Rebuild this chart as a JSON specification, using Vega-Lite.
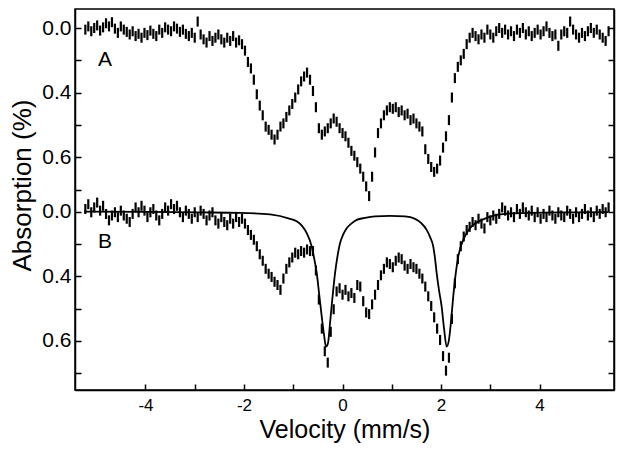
{
 "$schema": "https://vega.github.io/schema/vega-lite/v6.json",
 "width": 539,
 "height": 381,
 "autosize": "none",
 "padding": {"left": 75, "top": 9, "right": 10, "bottom": 68},
 "background": "white",
 "config": {
  "font": "Liberation Sans",
  "view": {"stroke": "black", "strokeWidth": 1.5},
  "axis": {"grid": false, "domainColor": "black", "domainWidth": 1.5, "tickColor": "black", "tickWidth": 1.5, "tickSize": -6, "labelColor": "black", "labelFont": "Liberation Sans", "titleColor": "black", "titleFont": "Liberation Sans", "titleFontWeight": "normal", "titleFontSize": 26}
 },
 "datasets": {
  "A": [
   {"v":-5.22,"u":0.05},{"v":-5.16,"u":-0.05},{"v":-5.10,"u":0.10},{"v":-5.04,"u":0.00},{"v":-4.98,"u":-0.08},{"v":-4.92,"u":0.08},{"v":-4.86,"u":-0.02},{"v":-4.80,"u":-0.15},{"v":-4.74,"u":-0.05},{"v":-4.68,"u":-0.18},{"v":-4.62,"u":0.02},{"v":-4.56,"u":0.15},{"v":-4.50,"u":-0.05},{"v":-4.44,"u":0.05},{"v":-4.38,"u":0.12},{"v":-4.32,"u":0.20},{"v":-4.26,"u":0.10},{"v":-4.20,"u":0.25},{"v":-4.14,"u":0.18},{"v":-4.08,"u":0.30},{"v":-4.02,"u":0.15},{"v":-3.96,"u":0.22},{"v":-3.90,"u":0.08},{"v":-3.84,"u":0.18},{"v":-3.78,"u":0.25},{"v":-3.72,"u":0.05},{"v":-3.66,"u":0.15},{"v":-3.60,"u":-0.02},{"v":-3.54,"u":0.05},{"v":-3.48,"u":0.10},{"v":-3.42,"u":-0.05},{"v":-3.36,"u":0.02},{"v":-3.30,"u":0.12},{"v":-3.24,"u":0.05},{"v":-3.18,"u":0.18},{"v":-3.12,"u":0.25},{"v":-3.06,"u":0.15},{"v":-3.00,"u":0.30},{"v":-2.94,"u":-0.20},{"v":-2.88,"u":0.20},{"v":-2.82,"u":0.35},{"v":-2.76,"u":0.45},{"v":-2.70,"u":0.25},{"v":-2.64,"u":0.40},{"v":-2.58,"u":0.30},{"v":-2.52,"u":0.20},{"v":-2.46,"u":0.35},{"v":-2.40,"u":0.45},{"v":-2.34,"u":0.30},{"v":-2.28,"u":0.40},{"v":-2.22,"u":0.25},{"v":-2.16,"u":0.45},{"v":-2.10,"u":0.38},{"v":-2.04,"u":0.50},{"v":-1.98,"u":0.70},{"v":-1.92,"u":1.05},{"v":-1.86,"u":1.25},{"v":-1.80,"u":1.60},{"v":-1.74,"u":2.05},{"v":-1.68,"u":2.40},{"v":-1.62,"u":2.70},{"v":-1.56,"u":3.05},{"v":-1.50,"u":3.15},{"v":-1.44,"u":3.30},{"v":-1.38,"u":3.45},{"v":-1.32,"u":3.30},{"v":-1.26,"u":3.05},{"v":-1.20,"u":2.95},{"v":-1.14,"u":2.75},{"v":-1.08,"u":2.55},{"v":-1.02,"u":2.35},{"v":-0.96,"u":2.15},{"v":-0.90,"u":1.90},{"v":-0.84,"u":1.65},{"v":-0.78,"u":1.50},{"v":-0.72,"u":1.38},{"v":-0.66,"u":1.60},{"v":-0.60,"u":1.95},{"v":-0.54,"u":2.45},{"v":-0.48,"u":3.10},{"v":-0.42,"u":3.30},{"v":-0.36,"u":3.20},{"v":-0.30,"u":3.10},{"v":-0.24,"u":2.95},{"v":-0.18,"u":2.80},{"v":-0.12,"u":2.90},{"v":-0.06,"u":3.10},{"v":0.00,"u":3.25},{"v":0.06,"u":3.35},{"v":0.12,"u":3.55},{"v":0.18,"u":3.80},{"v":0.24,"u":3.95},{"v":0.30,"u":4.15},{"v":0.36,"u":4.35},{"v":0.42,"u":4.60},{"v":0.48,"u":4.90},{"v":0.54,"u":5.20},{"v":0.60,"u":4.60},{"v":0.66,"u":3.85},{"v":0.72,"u":3.25},{"v":0.78,"u":2.95},{"v":0.84,"u":2.70},{"v":0.90,"u":2.55},{"v":0.96,"u":2.45},{"v":1.02,"u":2.50},{"v":1.08,"u":2.45},{"v":1.14,"u":2.60},{"v":1.20,"u":2.55},{"v":1.26,"u":2.70},{"v":1.32,"u":2.65},{"v":1.38,"u":2.85},{"v":1.44,"u":2.80},{"v":1.50,"u":2.95},{"v":1.56,"u":3.05},{"v":1.62,"u":3.20},{"v":1.68,"u":3.75},{"v":1.74,"u":4.05},{"v":1.80,"u":4.30},{"v":1.86,"u":4.45},{"v":1.92,"u":4.35},{"v":1.98,"u":4.10},{"v":2.04,"u":3.70},{"v":2.10,"u":3.35},{"v":2.16,"u":2.85},{"v":2.22,"u":2.15},{"v":2.28,"u":1.55},{"v":2.34,"u":1.20},{"v":2.40,"u":1.00},{"v":2.46,"u":0.80},{"v":2.52,"u":0.50},{"v":2.58,"u":0.30},{"v":2.64,"u":0.15},{"v":2.70,"u":0.25},{"v":2.76,"u":0.35},{"v":2.82,"u":0.20},{"v":2.88,"u":0.30},{"v":2.94,"u":0.05},{"v":3.00,"u":0.20},{"v":3.06,"u":0.30},{"v":3.12,"u":0.10},{"v":3.18,"u":0.00},{"v":3.24,"u":0.15},{"v":3.30,"u":0.05},{"v":3.36,"u":0.20},{"v":3.42,"u":0.10},{"v":3.48,"u":0.25},{"v":3.54,"u":0.05},{"v":3.60,"u":0.15},{"v":3.66,"u":0.00},{"v":3.72,"u":0.20},{"v":3.78,"u":0.10},{"v":3.84,"u":0.25},{"v":3.90,"u":0.15},{"v":3.96,"u":0.05},{"v":4.02,"u":0.20},{"v":4.08,"u":0.10},{"v":4.14,"u":-0.05},{"v":4.20,"u":0.15},{"v":4.26,"u":0.25},{"v":4.32,"u":0.20},{"v":4.38,"u":0.55},{"v":4.44,"u":0.20},{"v":4.50,"u":0.10},{"v":4.56,"u":0.15},{"v":4.62,"u":-0.20},{"v":4.68,"u":0.05},{"v":4.74,"u":0.20},{"v":4.80,"u":0.30},{"v":4.86,"u":0.15},{"v":4.92,"u":0.25},{"v":4.98,"u":0.10},{"v":5.04,"u":0.00},{"v":5.10,"u":0.15},{"v":5.16,"u":0.05},{"v":5.22,"u":0.20},{"v":5.28,"u":0.30},{"v":5.34,"u":0.40},{"v":5.40,"u":0.10}
  ],
  "B": [
   {"v":-5.22,"u":5.60},{"v":-5.16,"u":5.45},{"v":-5.10,"u":5.70},{"v":-5.04,"u":5.55},{"v":-4.98,"u":5.40},{"v":-4.92,"u":5.65},{"v":-4.86,"u":5.50},{"v":-4.80,"u":5.75},{"v":-4.74,"u":5.95},{"v":-4.68,"u":5.80},{"v":-4.62,"u":5.70},{"v":-4.56,"u":5.85},{"v":-4.50,"u":5.65},{"v":-4.44,"u":5.80},{"v":-4.38,"u":5.90},{"v":-4.32,"u":6.00},{"v":-4.26,"u":5.75},{"v":-4.20,"u":5.55},{"v":-4.14,"u":5.70},{"v":-4.08,"u":5.50},{"v":-4.02,"u":5.65},{"v":-3.96,"u":5.85},{"v":-3.90,"u":5.70},{"v":-3.84,"u":5.60},{"v":-3.78,"u":5.80},{"v":-3.72,"u":5.95},{"v":-3.66,"u":5.75},{"v":-3.60,"u":5.55},{"v":-3.54,"u":5.65},{"v":-3.48,"u":5.45},{"v":-3.42,"u":5.60},{"v":-3.36,"u":5.50},{"v":-3.30,"u":5.70},{"v":-3.24,"u":5.85},{"v":-3.18,"u":5.65},{"v":-3.12,"u":5.75},{"v":-3.06,"u":5.90},{"v":-3.00,"u":5.70},{"v":-2.94,"u":5.85},{"v":-2.88,"u":5.65},{"v":-2.82,"u":5.75},{"v":-2.76,"u":5.95},{"v":-2.70,"u":5.80},{"v":-2.64,"u":5.70},{"v":-2.58,"u":5.95},{"v":-2.52,"u":6.05},{"v":-2.46,"u":5.85},{"v":-2.40,"u":6.00},{"v":-2.34,"u":6.10},{"v":-2.28,"u":5.90},{"v":-2.22,"u":6.05},{"v":-2.16,"u":5.85},{"v":-2.10,"u":6.00},{"v":-2.04,"u":5.90},{"v":-1.98,"u":6.05},{"v":-1.92,"u":6.25},{"v":-1.86,"u":6.40},{"v":-1.80,"u":6.55},{"v":-1.74,"u":6.75},{"v":-1.68,"u":7.00},{"v":-1.62,"u":7.20},{"v":-1.56,"u":7.45},{"v":-1.50,"u":7.60},{"v":-1.44,"u":7.70},{"v":-1.38,"u":7.85},{"v":-1.32,"u":7.95},{"v":-1.26,"u":8.10},{"v":-1.20,"u":7.75},{"v":-1.14,"u":7.45},{"v":-1.08,"u":7.25},{"v":-1.02,"u":7.10},{"v":-0.96,"u":6.95},{"v":-0.90,"u":7.00},{"v":-0.84,"u":6.90},{"v":-0.78,"u":6.95},{"v":-0.72,"u":6.85},{"v":-0.66,"u":6.90},{"v":-0.60,"u":6.90},{"v":-0.54,"u":7.50},{"v":-0.48,"u":8.40},{"v":-0.42,"u":9.30},{"v":-0.36,"u":10.00},{"v":-0.30,"u":10.35},{"v":-0.24,"u":9.40},{"v":-0.18,"u":8.70},{"v":-0.12,"u":8.15},{"v":-0.06,"u":8.05},{"v":0.00,"u":8.25},{"v":0.06,"u":8.10},{"v":0.12,"u":8.30},{"v":0.18,"u":8.20},{"v":0.24,"u":8.35},{"v":0.30,"u":7.95},{"v":0.36,"u":8.00},{"v":0.42,"u":8.45},{"v":0.48,"u":8.80},{"v":0.54,"u":8.85},{"v":0.60,"u":8.55},{"v":0.66,"u":8.25},{"v":0.72,"u":7.95},{"v":0.78,"u":7.65},{"v":0.84,"u":7.45},{"v":0.90,"u":7.25},{"v":0.96,"u":7.30},{"v":1.02,"u":7.40},{"v":1.08,"u":7.20},{"v":1.14,"u":7.10},{"v":1.20,"u":7.15},{"v":1.26,"u":7.35},{"v":1.32,"u":7.45},{"v":1.38,"u":7.30},{"v":1.44,"u":7.40},{"v":1.50,"u":7.45},{"v":1.56,"u":7.60},{"v":1.62,"u":7.75},{"v":1.68,"u":8.00},{"v":1.74,"u":8.30},{"v":1.80,"u":8.60},{"v":1.86,"u":8.95},{"v":1.92,"u":9.30},{"v":1.98,"u":9.65},{"v":2.04,"u":10.15},{"v":2.10,"u":10.60},{"v":2.16,"u":10.20},{"v":2.22,"u":9.00},{"v":2.28,"u":7.90},{"v":2.34,"u":7.15},{"v":2.40,"u":6.75},{"v":2.46,"u":6.45},{"v":2.52,"u":6.25},{"v":2.58,"u":6.15},{"v":2.64,"u":6.00},{"v":2.70,"u":6.10},{"v":2.76,"u":5.90},{"v":2.82,"u":6.05},{"v":2.88,"u":6.20},{"v":2.94,"u":5.85},{"v":3.00,"u":5.95},{"v":3.06,"u":5.80},{"v":3.12,"u":5.90},{"v":3.18,"u":5.75},{"v":3.24,"u":5.55},{"v":3.30,"u":5.65},{"v":3.36,"u":5.80},{"v":3.42,"u":5.70},{"v":3.48,"u":5.85},{"v":3.54,"u":5.60},{"v":3.60,"u":5.75},{"v":3.66,"u":5.55},{"v":3.72,"u":5.70},{"v":3.78,"u":5.80},{"v":3.84,"u":5.65},{"v":3.90,"u":5.85},{"v":3.96,"u":5.70},{"v":4.02,"u":5.90},{"v":4.08,"u":5.75},{"v":4.14,"u":5.85},{"v":4.20,"u":5.65},{"v":4.26,"u":5.80},{"v":4.32,"u":5.90},{"v":4.38,"u":5.70},{"v":4.44,"u":5.80},{"v":4.50,"u":5.85},{"v":4.56,"u":5.65},{"v":4.62,"u":5.75},{"v":4.68,"u":5.90},{"v":4.74,"u":5.70},{"v":4.80,"u":5.85},{"v":4.86,"u":5.75},{"v":4.92,"u":5.60},{"v":4.98,"u":5.80},{"v":5.04,"u":5.70},{"v":5.10,"u":5.85},{"v":5.16,"u":5.65},{"v":5.22,"u":5.75},{"v":5.28,"u":5.60},{"v":5.34,"u":5.70},{"v":5.40,"u":5.55}
  ],
  "fit": [
   {"v":-5.243,"u":5.678},{"v":-3.905,"u":5.687},{"v":-2.890,"u":5.703},{"v":-2.079,"u":5.718},{"v":-1.471,"u":5.765},{"v":-1.065,"u":5.904},{"v":-0.923,"u":5.988},{"v":-0.822,"u":6.121},{"v":-0.726,"u":6.347},{"v":-0.625,"u":6.762},{"v":-0.578,"u":7.111},{"v":-0.523,"u":7.585},{"v":-0.477,"u":8.195},{"v":-0.422,"u":8.929},{"v":-0.375,"u":9.495},{"v":-0.335,"u":9.858},{"v":-0.294,"u":9.743},{"v":-0.254,"u":9.133},{"v":-0.203,"u":8.319},{"v":-0.152,"u":7.585},{"v":-0.101,"u":7.050},{"v":-0.051,"u":6.656},{"v":0.010,"u":6.399},{"v":0.085,"u":6.192},{"v":0.172,"u":6.059},{"v":0.288,"u":5.935},{"v":0.456,"u":5.873},{"v":0.659,"u":5.827},{"v":0.963,"u":5.811},{"v":1.268,"u":5.827},{"v":1.471,"u":5.904},{"v":1.592,"u":6.028},{"v":1.708,"u":6.245},{"v":1.775,"u":6.461},{"v":1.842,"u":6.762},{"v":1.876,"u":7.111},{"v":1.911,"u":7.585},{"v":1.957,"u":8.102},{"v":2.012,"u":8.619},{"v":2.059,"u":9.279},{"v":2.114,"u":9.858},{"v":2.160,"u":9.650},{"v":2.201,"u":9.093},{"v":2.247,"u":8.310},{"v":2.302,"u":7.545},{"v":2.349,"u":7.071},{"v":2.450,"u":6.554},{"v":2.546,"u":6.276},{"v":2.653,"u":6.090},{"v":2.789,"u":5.966},{"v":2.992,"u":5.833},{"v":3.296,"u":5.749},{"v":3.803,"u":5.718},{"v":4.615,"u":5.703},{"v":5.386,"u":5.697}
  ],
  "one": [{}]
 },
 "layer": [
  {
   "data": {"name": "A"},
   "mark": {"type": "tick", "orient": "vertical", "size": 10, "thickness": 2.2, "color": "black", "opacity": 1},
   "encoding": {
    "x": {"field": "v", "type": "quantitative", "scale": {"domain": [-5.43, 5.51], "nice": false, "zero": false},
          "axis": {"title": "Velocity (mm/s)", "values": [-4,-3,-2,-1,0,1,2,3,4], "labelExpr": "datum.value % 2 === 0 ? toString(datum.value) : ''", "labelFontSize": 17, "labelPadding": 13, "titlePadding": 4, "titleFontSize": 25}},
    "y": {"field": "u", "type": "quantitative", "scale": {"domain": [-0.588, 11.198], "reverse": true, "nice": false, "zero": false},
          "axis": {"orient": "left", "title": "Absorption (%)", "values": [0,1,2,3,4,5,5.68,6.68,7.68,8.68,9.68,10.68], "labelExpr": "(datum.value === 0 || datum.value === 5.68) ? '0.0' : (datum.value === 2 || datum.value === 7.68) ? '0.4' : (datum.value === 4 || datum.value === 9.68) ? '0.6' : ''", "labelFontSize": 21, "labelPadding": 10, "titlePadding": 6, "titleY": 176}}
   }
  },
  {
   "data": {"name": "B"},
   "mark": {"type": "tick", "orient": "vertical", "size": 10, "thickness": 2.2, "color": "black", "opacity": 1},
   "encoding": {
    "x": {"field": "v", "type": "quantitative"},
    "y": {"field": "u", "type": "quantitative",
          "axis": {"orient": "right", "title": null, "labels": false, "values": [0,1,2,3,4,5,5.68,6.68,7.68,8.68,9.68,10.68]}}
   }
  },
  {
   "data": {"name": "fit"},
   "mark": {"type": "line", "color": "black", "strokeWidth": 1.8, "interpolate": "monotone"},
   "encoding": {
    "x": {"field": "v", "type": "quantitative"},
    "y": {"field": "u", "type": "quantitative", "axis": null}
   }
  },
  {
   "data": {"name": "one"},
   "mark": {"type": "text", "fontSize": 21, "font": "Liberation Sans", "color": "black"},
   "encoding": {"x": {"datum": -4.82, "type": "quantitative"}, "y": {"datum": 1.0, "type": "quantitative", "axis": null}, "text": {"value": "A"}}
  },
  {
   "data": {"name": "one"},
   "mark": {"type": "text", "fontSize": 21, "font": "Liberation Sans", "color": "black"},
   "encoding": {"x": {"datum": -4.82, "type": "quantitative"}, "y": {"datum": 6.62, "type": "quantitative", "axis": null}, "text": {"value": "B"}}
  }
 ],
 "resolve": {"axis": {"y": "independent"}}
}
